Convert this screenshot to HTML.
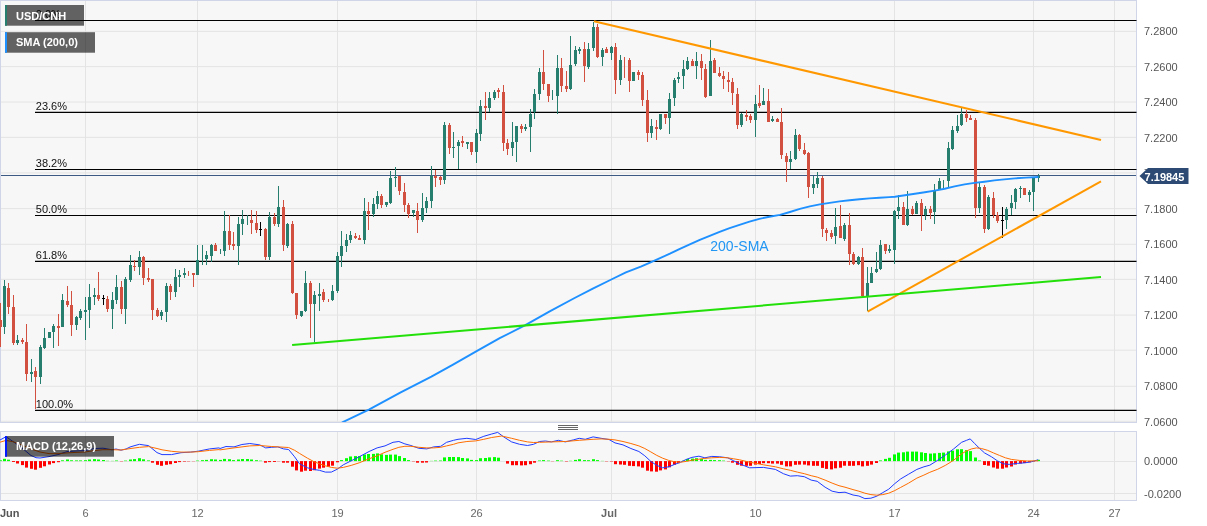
<!DOCTYPE html>
<html><head><meta charset="utf-8"><title>USD/CNH</title>
<style>html,body{margin:0;padding:0;background:#fff}body{width:1207px;height:526px;overflow:hidden;font-family:"Liberation Sans",sans-serif}</style></head>
<body>
<svg width="1207" height="526" viewBox="0 0 1207 526" style="display:block;will-change:transform;font-family:'Liberation Sans',sans-serif">
<rect width="1207" height="526" fill="#ffffff"/>
<rect x="0.5" y="0.5" width="1136" height="422" fill="#f7f7f7" stroke="#d0d5e8" stroke-width="1"/>
<rect x="0.5" y="431.5" width="1136" height="69" fill="#f7f7f7" stroke="#d0d5e8" stroke-width="1"/>
<path d="M85.5 1V422M85.5 432V500M197.5 1V422M197.5 432V500M337.5 1V422M337.5 432V500M476.5 1V422M476.5 432V500M611.5 1V422M611.5 432V500M755.5 1V422M755.5 432V500M894.5 1V422M894.5 432V500M1033.5 1V422M1033.5 432V500M1114.5 1V422M1114.5 432V500M1 31.4H1136M1 66.6H1136M1 102.0H1136M1 137.4H1136M1 172.9H1136M1 208.6H1136M1 244.3H1136M1 279.4H1136M1 315.1H1136M1 350.2H1136M1 386.3H1136M1 421.3H1136M1 461.5H1136M1 493.5H1136" stroke="#e4e4e4" stroke-width="1" fill="none"/>
<path d="M35 20.5H1136.5" stroke="#000" stroke-width="1.15"/>
<text x="35.8" y="18.1" font-size="11" fill="#111">0.0%</text>
<path d="M35 112.4H1136.5" stroke="#000" stroke-width="1.15"/>
<text x="35.8" y="110.0" font-size="11" fill="#111">23.6%</text>
<path d="M35 169.5H1136.5" stroke="#000" stroke-width="1.15"/>
<text x="35.8" y="167.1" font-size="11" fill="#111">38.2%</text>
<path d="M35 215.5H1136.5" stroke="#000" stroke-width="1.15"/>
<text x="35.8" y="213.1" font-size="11" fill="#111">50.0%</text>
<path d="M35 261.4H1136.5" stroke="#000" stroke-width="1.15"/>
<text x="35.8" y="259.0" font-size="11" fill="#111">61.8%</text>
<path d="M35 410.3H1136.5" stroke="#000" stroke-width="1.15"/>
<text x="35.8" y="407.9" font-size="11" fill="#111">100.0%</text>
<path d="M1 175.5H1136" stroke="#3d5a85" stroke-width="1.2"/>
<g shape-rendering="crispEdges"><rect x="0" y="303" width="1" height="44" fill="#d1503f"/><rect x="-1" y="320" width="3" height="7" fill="#d1503f"/><rect x="4" y="280" width="1" height="54" fill="#267f6e"/><rect x="3" y="286" width="3" height="41" fill="#267f6e"/><rect x="8" y="283" width="1" height="31" fill="#d1503f"/><rect x="7" y="288" width="3" height="19" fill="#d1503f"/><rect x="13" y="295" width="1" height="50" fill="#d1503f"/><rect x="12" y="307" width="3" height="36" fill="#d1503f"/><rect x="17" y="335" width="1" height="10" fill="#267f6e"/><rect x="16" y="340" width="3" height="3" fill="#267f6e"/><rect x="22" y="338" width="1" height="6" fill="#d1503f"/><rect x="21" y="340" width="3" height="2" fill="#d1503f"/><rect x="26" y="324" width="1" height="57" fill="#d1503f"/><rect x="25" y="342" width="3" height="32" fill="#d1503f"/><rect x="31" y="359" width="1" height="23" fill="#267f6e"/><rect x="30" y="372" width="3" height="2" fill="#267f6e"/><rect x="35" y="367" width="1" height="42" fill="#d1503f"/><rect x="34" y="371" width="3" height="6" fill="#d1503f"/><rect x="40" y="345" width="1" height="39" fill="#267f6e"/><rect x="39" y="347" width="3" height="30" fill="#267f6e"/><rect x="44" y="328" width="1" height="21" fill="#267f6e"/><rect x="43" y="338" width="3" height="10" fill="#267f6e"/><rect x="49" y="332" width="1" height="6" fill="#267f6e"/><rect x="48" y="332" width="3" height="6" fill="#267f6e"/><rect x="53" y="324" width="1" height="24" fill="#267f6e"/><rect x="52" y="326" width="3" height="6" fill="#267f6e"/><rect x="58" y="314" width="1" height="32" fill="#d1503f"/><rect x="57" y="326" width="3" height="2" fill="#d1503f"/><rect x="62" y="294" width="1" height="33" fill="#267f6e"/><rect x="61" y="300" width="3" height="27" fill="#267f6e"/><rect x="67" y="286" width="1" height="21" fill="#d1503f"/><rect x="66" y="301" width="3" height="4" fill="#d1503f"/><rect x="71" y="291" width="1" height="45" fill="#d1503f"/><rect x="70" y="305" width="3" height="20" fill="#d1503f"/><rect x="76" y="316" width="1" height="14" fill="#267f6e"/><rect x="75" y="317" width="3" height="8" fill="#267f6e"/><rect x="80" y="309" width="1" height="11" fill="#267f6e"/><rect x="79" y="311" width="3" height="7" fill="#267f6e"/><rect x="85" y="297" width="1" height="43" fill="#267f6e"/><rect x="84" y="310" width="3" height="2" fill="#267f6e"/><rect x="89" y="284" width="1" height="44" fill="#267f6e"/><rect x="88" y="297" width="3" height="13" fill="#267f6e"/><rect x="94" y="288" width="1" height="17" fill="#267f6e"/><rect x="93" y="295" width="3" height="2" fill="#267f6e"/><rect x="98" y="272" width="1" height="29" fill="#d1503f"/><rect x="97" y="295" width="3" height="4" fill="#d1503f"/><rect x="103" y="295" width="1" height="10" fill="#000000"/><rect x="102" y="298" width="3" height="1" fill="#000000"/><rect x="107" y="296" width="1" height="16" fill="#d1503f"/><rect x="106" y="299" width="3" height="10" fill="#d1503f"/><rect x="112" y="292" width="1" height="37" fill="#267f6e"/><rect x="111" y="300" width="3" height="9" fill="#267f6e"/><rect x="116" y="275" width="1" height="29" fill="#267f6e"/><rect x="115" y="287" width="3" height="13" fill="#267f6e"/><rect x="121" y="281" width="1" height="33" fill="#d1503f"/><rect x="120" y="287" width="3" height="22" fill="#d1503f"/><rect x="125" y="277" width="1" height="47" fill="#267f6e"/><rect x="124" y="279" width="3" height="30" fill="#267f6e"/><rect x="130" y="255" width="1" height="27" fill="#267f6e"/><rect x="129" y="265" width="3" height="15" fill="#267f6e"/><rect x="134" y="260" width="1" height="11" fill="#d1503f"/><rect x="133" y="266" width="3" height="1" fill="#d1503f"/><rect x="139" y="251" width="1" height="24" fill="#267f6e"/><rect x="138" y="257" width="3" height="10" fill="#267f6e"/><rect x="143" y="256" width="1" height="29" fill="#d1503f"/><rect x="142" y="257" width="3" height="21" fill="#d1503f"/><rect x="148" y="268" width="1" height="14" fill="#d1503f"/><rect x="147" y="278" width="3" height="2" fill="#d1503f"/><rect x="152" y="279" width="1" height="41" fill="#d1503f"/><rect x="151" y="279" width="3" height="31" fill="#d1503f"/><rect x="157" y="308" width="1" height="9" fill="#d1503f"/><rect x="156" y="310" width="3" height="6" fill="#d1503f"/><rect x="161" y="310" width="1" height="10" fill="#267f6e"/><rect x="160" y="312" width="3" height="4" fill="#267f6e"/><rect x="166" y="283" width="1" height="39" fill="#267f6e"/><rect x="165" y="286" width="3" height="26" fill="#267f6e"/><rect x="170" y="284" width="1" height="16" fill="#d1503f"/><rect x="169" y="286" width="3" height="6" fill="#d1503f"/><rect x="175" y="269" width="1" height="28" fill="#267f6e"/><rect x="174" y="277" width="3" height="15" fill="#267f6e"/><rect x="179" y="270" width="1" height="17" fill="#267f6e"/><rect x="178" y="275" width="3" height="2" fill="#267f6e"/><rect x="184" y="268" width="1" height="10" fill="#267f6e"/><rect x="183" y="273" width="3" height="2" fill="#267f6e"/><rect x="188" y="271" width="1" height="5" fill="#d1503f"/><rect x="193" y="273" width="1" height="14" fill="#d1503f"/><rect x="192" y="273" width="3" height="2" fill="#d1503f"/><rect x="197" y="245" width="1" height="30" fill="#267f6e"/><rect x="196" y="260" width="3" height="15" fill="#267f6e"/><rect x="202" y="245" width="1" height="20" fill="#267f6e"/><rect x="206" y="251" width="1" height="14" fill="#267f6e"/><rect x="205" y="255" width="3" height="4" fill="#267f6e"/><rect x="211" y="244" width="1" height="18" fill="#267f6e"/><rect x="210" y="245" width="3" height="11" fill="#267f6e"/><rect x="215" y="243" width="1" height="8" fill="#d1503f"/><rect x="214" y="245" width="3" height="6" fill="#d1503f"/><rect x="220" y="249" width="1" height="5" fill="#267f6e"/><rect x="224" y="211" width="1" height="45" fill="#267f6e"/><rect x="223" y="231" width="3" height="20" fill="#267f6e"/><rect x="229" y="215" width="1" height="35" fill="#d1503f"/><rect x="228" y="231" width="3" height="14" fill="#d1503f"/><rect x="233" y="232" width="1" height="18" fill="#d1503f"/><rect x="232" y="244" width="3" height="2" fill="#d1503f"/><rect x="238" y="217" width="1" height="48" fill="#267f6e"/><rect x="237" y="224" width="3" height="22" fill="#267f6e"/><rect x="242" y="210" width="1" height="25" fill="#267f6e"/><rect x="241" y="219" width="3" height="5" fill="#267f6e"/><rect x="247" y="215" width="1" height="10" fill="#267f6e"/><rect x="251" y="210" width="1" height="24" fill="#d1503f"/><rect x="250" y="220" width="3" height="3" fill="#d1503f"/><rect x="256" y="211" width="1" height="22" fill="#d1503f"/><rect x="255" y="223" width="3" height="7" fill="#d1503f"/><rect x="260" y="222" width="1" height="14" fill="#000000"/><rect x="259" y="229" width="3" height="1" fill="#000000"/><rect x="265" y="228" width="1" height="32" fill="#d1503f"/><rect x="264" y="229" width="3" height="28" fill="#d1503f"/><rect x="269" y="212" width="1" height="48" fill="#267f6e"/><rect x="268" y="217" width="3" height="40" fill="#267f6e"/><rect x="274" y="213" width="1" height="13" fill="#d1503f"/><rect x="273" y="217" width="3" height="7" fill="#d1503f"/><rect x="278" y="186" width="1" height="41" fill="#267f6e"/><rect x="277" y="207" width="3" height="17" fill="#267f6e"/><rect x="283" y="200" width="1" height="51" fill="#d1503f"/><rect x="282" y="207" width="3" height="38" fill="#d1503f"/><rect x="287" y="223" width="1" height="25" fill="#267f6e"/><rect x="286" y="224" width="3" height="22" fill="#267f6e"/><rect x="292" y="221" width="1" height="73" fill="#d1503f"/><rect x="291" y="224" width="3" height="69" fill="#d1503f"/><rect x="296" y="293" width="1" height="26" fill="#d1503f"/><rect x="295" y="293" width="3" height="22" fill="#d1503f"/><rect x="301" y="311" width="1" height="6" fill="#267f6e"/><rect x="300" y="311" width="3" height="5" fill="#267f6e"/><rect x="305" y="271" width="1" height="41" fill="#267f6e"/><rect x="304" y="283" width="3" height="28" fill="#267f6e"/><rect x="310" y="281" width="1" height="57" fill="#d1503f"/><rect x="309" y="283" width="3" height="21" fill="#d1503f"/><rect x="314" y="291" width="1" height="51" fill="#267f6e"/><rect x="313" y="295" width="3" height="9" fill="#267f6e"/><rect x="319" y="283" width="1" height="28" fill="#267f6e"/><rect x="318" y="294" width="3" height="2" fill="#267f6e"/><rect x="323" y="289" width="1" height="13" fill="#d1503f"/><rect x="322" y="292" width="3" height="8" fill="#d1503f"/><rect x="328" y="299" width="1" height="3" fill="#d1503f"/><rect x="332" y="285" width="1" height="16" fill="#267f6e"/><rect x="331" y="291" width="3" height="9" fill="#267f6e"/><rect x="337" y="252" width="1" height="41" fill="#267f6e"/><rect x="336" y="256" width="3" height="35" fill="#267f6e"/><rect x="341" y="231" width="1" height="36" fill="#267f6e"/><rect x="340" y="246" width="3" height="10" fill="#267f6e"/><rect x="346" y="234" width="1" height="18" fill="#267f6e"/><rect x="345" y="240" width="3" height="6" fill="#267f6e"/><rect x="350" y="231" width="1" height="12" fill="#267f6e"/><rect x="349" y="235" width="3" height="5" fill="#267f6e"/><rect x="355" y="233" width="1" height="6" fill="#d1503f"/><rect x="354" y="236" width="3" height="2" fill="#d1503f"/><rect x="359" y="235" width="1" height="5" fill="#d1503f"/><rect x="358" y="238" width="3" height="2" fill="#d1503f"/><rect x="364" y="198" width="1" height="46" fill="#267f6e"/><rect x="363" y="211" width="3" height="29" fill="#267f6e"/><rect x="368" y="202" width="1" height="28" fill="#d1503f"/><rect x="367" y="211" width="3" height="3" fill="#d1503f"/><rect x="373" y="198" width="1" height="19" fill="#267f6e"/><rect x="372" y="204" width="3" height="10" fill="#267f6e"/><rect x="377" y="191" width="1" height="18" fill="#267f6e"/><rect x="376" y="196" width="3" height="8" fill="#267f6e"/><rect x="381" y="194" width="1" height="14" fill="#d1503f"/><rect x="380" y="196" width="3" height="9" fill="#d1503f"/><rect x="386" y="202" width="1" height="5" fill="#267f6e"/><rect x="385" y="202" width="3" height="3" fill="#267f6e"/><rect x="390" y="171" width="1" height="33" fill="#267f6e"/><rect x="389" y="178" width="3" height="25" fill="#267f6e"/><rect x="395" y="167" width="1" height="20" fill="#267f6e"/><rect x="394" y="177" width="3" height="1" fill="#267f6e"/><rect x="399" y="176" width="1" height="19" fill="#d1503f"/><rect x="398" y="176" width="3" height="15" fill="#d1503f"/><rect x="404" y="183" width="1" height="29" fill="#d1503f"/><rect x="403" y="192" width="3" height="13" fill="#d1503f"/><rect x="408" y="203" width="1" height="15" fill="#d1503f"/><rect x="407" y="205" width="3" height="9" fill="#d1503f"/><rect x="413" y="210" width="1" height="7" fill="#267f6e"/><rect x="412" y="210" width="3" height="3" fill="#267f6e"/><rect x="417" y="203" width="1" height="30" fill="#d1503f"/><rect x="416" y="211" width="3" height="9" fill="#d1503f"/><rect x="422" y="193" width="1" height="29" fill="#267f6e"/><rect x="421" y="208" width="3" height="12" fill="#267f6e"/><rect x="426" y="197" width="1" height="16" fill="#267f6e"/><rect x="425" y="201" width="3" height="7" fill="#267f6e"/><rect x="431" y="166" width="1" height="42" fill="#267f6e"/><rect x="430" y="176" width="3" height="25" fill="#267f6e"/><rect x="435" y="170" width="1" height="17" fill="#d1503f"/><rect x="434" y="176" width="3" height="2" fill="#d1503f"/><rect x="440" y="176" width="1" height="9" fill="#d1503f"/><rect x="439" y="177" width="3" height="3" fill="#d1503f"/><rect x="444" y="122" width="1" height="62" fill="#267f6e"/><rect x="443" y="125" width="3" height="55" fill="#267f6e"/><rect x="449" y="123" width="1" height="31" fill="#d1503f"/><rect x="448" y="125" width="3" height="23" fill="#d1503f"/><rect x="453" y="132" width="1" height="26" fill="#267f6e"/><rect x="452" y="147" width="3" height="1" fill="#267f6e"/><rect x="458" y="140" width="1" height="29" fill="#267f6e"/><rect x="457" y="142" width="3" height="4" fill="#267f6e"/><rect x="462" y="136" width="1" height="11" fill="#d1503f"/><rect x="461" y="141" width="3" height="2" fill="#d1503f"/><rect x="467" y="142" width="1" height="7" fill="#267f6e"/><rect x="466" y="142" width="3" height="2" fill="#267f6e"/><rect x="471" y="142" width="1" height="13" fill="#d1503f"/><rect x="470" y="142" width="3" height="10" fill="#d1503f"/><rect x="476" y="129" width="1" height="34" fill="#267f6e"/><rect x="475" y="133" width="3" height="19" fill="#267f6e"/><rect x="480" y="100" width="1" height="41" fill="#267f6e"/><rect x="479" y="106" width="3" height="28" fill="#267f6e"/><rect x="485" y="92" width="1" height="28" fill="#d1503f"/><rect x="484" y="106" width="3" height="2" fill="#d1503f"/><rect x="489" y="92" width="1" height="20" fill="#267f6e"/><rect x="488" y="98" width="3" height="10" fill="#267f6e"/><rect x="494" y="90" width="1" height="10" fill="#267f6e"/><rect x="493" y="92" width="3" height="6" fill="#267f6e"/><rect x="498" y="88" width="1" height="10" fill="#d1503f"/><rect x="497" y="90" width="3" height="2" fill="#d1503f"/><rect x="503" y="85" width="1" height="66" fill="#d1503f"/><rect x="502" y="92" width="3" height="51" fill="#d1503f"/><rect x="507" y="139" width="1" height="16" fill="#d1503f"/><rect x="506" y="143" width="3" height="6" fill="#d1503f"/><rect x="512" y="122" width="1" height="34" fill="#267f6e"/><rect x="511" y="142" width="3" height="6" fill="#267f6e"/><rect x="516" y="126" width="1" height="36" fill="#267f6e"/><rect x="515" y="126" width="3" height="16" fill="#267f6e"/><rect x="521" y="124" width="1" height="9" fill="#d1503f"/><rect x="520" y="126" width="3" height="3" fill="#d1503f"/><rect x="525" y="124" width="1" height="7" fill="#267f6e"/><rect x="524" y="127" width="3" height="2" fill="#267f6e"/><rect x="530" y="109" width="1" height="43" fill="#267f6e"/><rect x="529" y="114" width="3" height="13" fill="#267f6e"/><rect x="534" y="89" width="1" height="30" fill="#267f6e"/><rect x="533" y="94" width="3" height="18" fill="#267f6e"/><rect x="539" y="68" width="1" height="32" fill="#267f6e"/><rect x="538" y="72" width="3" height="22" fill="#267f6e"/><rect x="543" y="50" width="1" height="40" fill="#d1503f"/><rect x="542" y="72" width="3" height="12" fill="#d1503f"/><rect x="548" y="84" width="1" height="18" fill="#d1503f"/><rect x="547" y="84" width="3" height="12" fill="#d1503f"/><rect x="552" y="90" width="1" height="10" fill="#267f6e"/><rect x="557" y="55" width="1" height="59" fill="#267f6e"/><rect x="556" y="68" width="3" height="28" fill="#267f6e"/><rect x="561" y="58" width="1" height="34" fill="#d1503f"/><rect x="560" y="68" width="3" height="18" fill="#d1503f"/><rect x="566" y="71" width="1" height="21" fill="#d1503f"/><rect x="565" y="86" width="3" height="3" fill="#d1503f"/><rect x="570" y="36" width="1" height="54" fill="#267f6e"/><rect x="569" y="65" width="3" height="24" fill="#267f6e"/><rect x="575" y="46" width="1" height="20" fill="#267f6e"/><rect x="574" y="50" width="3" height="14" fill="#267f6e"/><rect x="579" y="47" width="1" height="7" fill="#267f6e"/><rect x="578" y="49" width="3" height="2" fill="#267f6e"/><rect x="584" y="42" width="1" height="40" fill="#d1503f"/><rect x="583" y="49" width="3" height="17" fill="#d1503f"/><rect x="588" y="43" width="1" height="26" fill="#267f6e"/><rect x="587" y="49" width="3" height="18" fill="#267f6e"/><rect x="593" y="22" width="1" height="29" fill="#267f6e"/><rect x="592" y="27" width="3" height="21" fill="#267f6e"/><rect x="597" y="24" width="1" height="34" fill="#d1503f"/><rect x="596" y="27" width="3" height="30" fill="#d1503f"/><rect x="602" y="48" width="1" height="18" fill="#267f6e"/><rect x="601" y="50" width="3" height="7" fill="#267f6e"/><rect x="606" y="47" width="1" height="6" fill="#d1503f"/><rect x="605" y="49" width="3" height="4" fill="#d1503f"/><rect x="611" y="46" width="1" height="14" fill="#267f6e"/><rect x="610" y="47" width="3" height="6" fill="#267f6e"/><rect x="615" y="43" width="1" height="51" fill="#d1503f"/><rect x="614" y="47" width="3" height="33" fill="#d1503f"/><rect x="620" y="55" width="1" height="30" fill="#267f6e"/><rect x="619" y="60" width="3" height="20" fill="#267f6e"/><rect x="624" y="57" width="1" height="21" fill="#d1503f"/><rect x="629" y="58" width="1" height="34" fill="#d1503f"/><rect x="628" y="60" width="3" height="21" fill="#d1503f"/><rect x="633" y="72" width="1" height="9" fill="#267f6e"/><rect x="632" y="72" width="3" height="9" fill="#267f6e"/><rect x="638" y="70" width="1" height="10" fill="#d1503f"/><rect x="637" y="72" width="3" height="3" fill="#d1503f"/><rect x="642" y="72" width="1" height="34" fill="#d1503f"/><rect x="641" y="75" width="3" height="25" fill="#d1503f"/><rect x="647" y="90" width="1" height="52" fill="#d1503f"/><rect x="646" y="100" width="3" height="33" fill="#d1503f"/><rect x="651" y="119" width="1" height="19" fill="#267f6e"/><rect x="650" y="126" width="3" height="7" fill="#267f6e"/><rect x="656" y="120" width="1" height="20" fill="#d1503f"/><rect x="655" y="127" width="3" height="2" fill="#d1503f"/><rect x="660" y="114" width="1" height="16" fill="#267f6e"/><rect x="659" y="114" width="3" height="15" fill="#267f6e"/><rect x="665" y="114" width="1" height="10" fill="#d1503f"/><rect x="664" y="114" width="3" height="4" fill="#d1503f"/><rect x="669" y="93" width="1" height="41" fill="#267f6e"/><rect x="668" y="99" width="3" height="19" fill="#267f6e"/><rect x="674" y="78" width="1" height="28" fill="#267f6e"/><rect x="673" y="80" width="3" height="18" fill="#267f6e"/><rect x="678" y="72" width="1" height="11" fill="#267f6e"/><rect x="677" y="77" width="3" height="2" fill="#267f6e"/><rect x="683" y="60" width="1" height="29" fill="#267f6e"/><rect x="682" y="69" width="3" height="7" fill="#267f6e"/><rect x="687" y="57" width="1" height="13" fill="#267f6e"/><rect x="686" y="61" width="3" height="8" fill="#267f6e"/><rect x="692" y="59" width="1" height="7" fill="#d1503f"/><rect x="691" y="61" width="3" height="5" fill="#d1503f"/><rect x="696" y="52" width="1" height="27" fill="#267f6e"/><rect x="695" y="61" width="3" height="5" fill="#267f6e"/><rect x="701" y="54" width="1" height="26" fill="#d1503f"/><rect x="700" y="61" width="3" height="7" fill="#d1503f"/><rect x="705" y="64" width="1" height="34" fill="#d1503f"/><rect x="704" y="69" width="3" height="28" fill="#d1503f"/><rect x="710" y="40" width="1" height="56" fill="#267f6e"/><rect x="709" y="61" width="3" height="35" fill="#267f6e"/><rect x="714" y="58" width="1" height="15" fill="#d1503f"/><rect x="713" y="60" width="3" height="13" fill="#d1503f"/><rect x="719" y="67" width="1" height="10" fill="#d1503f"/><rect x="718" y="73" width="3" height="3" fill="#d1503f"/><rect x="723" y="71" width="1" height="18" fill="#d1503f"/><rect x="722" y="76" width="3" height="3" fill="#d1503f"/><rect x="728" y="72" width="1" height="20" fill="#d1503f"/><rect x="727" y="80" width="3" height="2" fill="#d1503f"/><rect x="732" y="78" width="1" height="27" fill="#d1503f"/><rect x="731" y="82" width="3" height="11" fill="#d1503f"/><rect x="737" y="88" width="1" height="41" fill="#d1503f"/><rect x="736" y="94" width="3" height="31" fill="#d1503f"/><rect x="741" y="113" width="1" height="14" fill="#267f6e"/><rect x="740" y="114" width="3" height="11" fill="#267f6e"/><rect x="746" y="110" width="1" height="11" fill="#d1503f"/><rect x="745" y="115" width="3" height="2" fill="#d1503f"/><rect x="750" y="114" width="1" height="9" fill="#d1503f"/><rect x="749" y="116" width="3" height="4" fill="#d1503f"/><rect x="755" y="95" width="1" height="42" fill="#267f6e"/><rect x="754" y="104" width="3" height="16" fill="#267f6e"/><rect x="759" y="85" width="1" height="23" fill="#d1503f"/><rect x="758" y="103" width="3" height="3" fill="#d1503f"/><rect x="763" y="88" width="1" height="17" fill="#267f6e"/><rect x="762" y="101" width="3" height="4" fill="#267f6e"/><rect x="768" y="89" width="1" height="33" fill="#d1503f"/><rect x="767" y="101" width="3" height="21" fill="#d1503f"/><rect x="772" y="116" width="1" height="6" fill="#267f6e"/><rect x="771" y="119" width="3" height="2" fill="#267f6e"/><rect x="777" y="118" width="1" height="4" fill="#d1503f"/><rect x="776" y="119" width="3" height="3" fill="#d1503f"/><rect x="781" y="108" width="1" height="51" fill="#d1503f"/><rect x="780" y="122" width="3" height="33" fill="#d1503f"/><rect x="786" y="153" width="1" height="29" fill="#d1503f"/><rect x="785" y="156" width="3" height="6" fill="#d1503f"/><rect x="790" y="151" width="1" height="18" fill="#267f6e"/><rect x="789" y="159" width="3" height="3" fill="#267f6e"/><rect x="795" y="129" width="1" height="31" fill="#267f6e"/><rect x="794" y="135" width="3" height="24" fill="#267f6e"/><rect x="799" y="134" width="1" height="17" fill="#d1503f"/><rect x="798" y="135" width="3" height="14" fill="#d1503f"/><rect x="804" y="143" width="1" height="12" fill="#d1503f"/><rect x="803" y="150" width="3" height="4" fill="#d1503f"/><rect x="808" y="152" width="1" height="46" fill="#d1503f"/><rect x="807" y="153" width="3" height="34" fill="#d1503f"/><rect x="813" y="176" width="1" height="18" fill="#267f6e"/><rect x="812" y="184" width="3" height="4" fill="#267f6e"/><rect x="817" y="172" width="1" height="16" fill="#267f6e"/><rect x="816" y="178" width="3" height="6" fill="#267f6e"/><rect x="822" y="176" width="1" height="61" fill="#d1503f"/><rect x="821" y="178" width="3" height="51" fill="#d1503f"/><rect x="826" y="228" width="1" height="13" fill="#d1503f"/><rect x="825" y="230" width="3" height="3" fill="#d1503f"/><rect x="831" y="230" width="1" height="9" fill="#d1503f"/><rect x="830" y="233" width="3" height="4" fill="#d1503f"/><rect x="835" y="208" width="1" height="36" fill="#267f6e"/><rect x="834" y="227" width="3" height="9" fill="#267f6e"/><rect x="840" y="205" width="1" height="33" fill="#d1503f"/><rect x="839" y="226" width="3" height="12" fill="#d1503f"/><rect x="844" y="223" width="1" height="18" fill="#267f6e"/><rect x="843" y="225" width="3" height="14" fill="#267f6e"/><rect x="849" y="213" width="1" height="52" fill="#d1503f"/><rect x="848" y="225" width="3" height="29" fill="#d1503f"/><rect x="853" y="252" width="1" height="13" fill="#d1503f"/><rect x="852" y="254" width="3" height="10" fill="#d1503f"/><rect x="858" y="256" width="1" height="9" fill="#267f6e"/><rect x="857" y="257" width="3" height="7" fill="#267f6e"/><rect x="862" y="248" width="1" height="50" fill="#d1503f"/><rect x="861" y="257" width="3" height="39" fill="#d1503f"/><rect x="867" y="267" width="1" height="44" fill="#267f6e"/><rect x="866" y="283" width="3" height="13" fill="#267f6e"/><rect x="871" y="267" width="1" height="16" fill="#267f6e"/><rect x="870" y="273" width="3" height="10" fill="#267f6e"/><rect x="876" y="252" width="1" height="21" fill="#267f6e"/><rect x="875" y="269" width="3" height="3" fill="#267f6e"/><rect x="880" y="240" width="1" height="30" fill="#267f6e"/><rect x="879" y="245" width="3" height="24" fill="#267f6e"/><rect x="885" y="244" width="1" height="10" fill="#d1503f"/><rect x="884" y="244" width="3" height="7" fill="#d1503f"/><rect x="889" y="245" width="1" height="8" fill="#267f6e"/><rect x="888" y="249" width="3" height="2" fill="#267f6e"/><rect x="894" y="210" width="1" height="54" fill="#267f6e"/><rect x="893" y="211" width="3" height="39" fill="#267f6e"/><rect x="898" y="195" width="1" height="24" fill="#267f6e"/><rect x="897" y="207" width="3" height="4" fill="#267f6e"/><rect x="903" y="202" width="1" height="23" fill="#d1503f"/><rect x="902" y="207" width="3" height="18" fill="#d1503f"/><rect x="907" y="191" width="1" height="35" fill="#267f6e"/><rect x="906" y="209" width="3" height="16" fill="#267f6e"/><rect x="912" y="206" width="1" height="9" fill="#d1503f"/><rect x="911" y="209" width="3" height="5" fill="#d1503f"/><rect x="916" y="201" width="1" height="13" fill="#267f6e"/><rect x="915" y="203" width="3" height="11" fill="#267f6e"/><rect x="921" y="199" width="1" height="32" fill="#d1503f"/><rect x="920" y="203" width="3" height="12" fill="#d1503f"/><rect x="925" y="206" width="1" height="14" fill="#267f6e"/><rect x="924" y="209" width="3" height="6" fill="#267f6e"/><rect x="930" y="206" width="1" height="13" fill="#d1503f"/><rect x="929" y="209" width="3" height="4" fill="#d1503f"/><rect x="934" y="184" width="1" height="40" fill="#267f6e"/><rect x="933" y="190" width="3" height="22" fill="#267f6e"/><rect x="939" y="178" width="1" height="12" fill="#267f6e"/><rect x="938" y="181" width="3" height="8" fill="#267f6e"/><rect x="943" y="180" width="1" height="9" fill="#267f6e"/><rect x="948" y="142" width="1" height="45" fill="#267f6e"/><rect x="947" y="148" width="3" height="33" fill="#267f6e"/><rect x="952" y="126" width="1" height="24" fill="#267f6e"/><rect x="951" y="130" width="3" height="19" fill="#267f6e"/><rect x="957" y="115" width="1" height="18" fill="#267f6e"/><rect x="956" y="126" width="3" height="5" fill="#267f6e"/><rect x="961" y="108" width="1" height="18" fill="#267f6e"/><rect x="960" y="114" width="3" height="11" fill="#267f6e"/><rect x="966" y="110" width="1" height="12" fill="#d1503f"/><rect x="965" y="114" width="3" height="4" fill="#d1503f"/><rect x="970" y="115" width="1" height="5" fill="#d1503f"/><rect x="969" y="118" width="3" height="2" fill="#d1503f"/><rect x="975" y="118" width="1" height="100" fill="#d1503f"/><rect x="974" y="120" width="3" height="88" fill="#d1503f"/><rect x="979" y="182" width="1" height="31" fill="#267f6e"/><rect x="978" y="187" width="3" height="21" fill="#267f6e"/><rect x="984" y="185" width="1" height="48" fill="#d1503f"/><rect x="983" y="187" width="3" height="42" fill="#d1503f"/><rect x="988" y="195" width="1" height="35" fill="#267f6e"/><rect x="987" y="197" width="3" height="32" fill="#267f6e"/><rect x="993" y="192" width="1" height="26" fill="#d1503f"/><rect x="992" y="198" width="3" height="17" fill="#d1503f"/><rect x="997" y="212" width="1" height="11" fill="#d1503f"/><rect x="996" y="215" width="3" height="6" fill="#d1503f"/><rect x="1002" y="207" width="1" height="31" fill="#000000"/><rect x="1001" y="220" width="3" height="1" fill="#000000"/><rect x="1006" y="207" width="1" height="22" fill="#267f6e"/><rect x="1005" y="209" width="3" height="11" fill="#267f6e"/><rect x="1011" y="195" width="1" height="20" fill="#267f6e"/><rect x="1010" y="203" width="3" height="5" fill="#267f6e"/><rect x="1015" y="188" width="1" height="21" fill="#267f6e"/><rect x="1014" y="189" width="3" height="13" fill="#267f6e"/><rect x="1020" y="186" width="1" height="12" fill="#267f6e"/><rect x="1019" y="188" width="3" height="1" fill="#267f6e"/><rect x="1024" y="188" width="1" height="7" fill="#d1503f"/><rect x="1023" y="188" width="3" height="7" fill="#d1503f"/><rect x="1029" y="190" width="1" height="12" fill="#267f6e"/><rect x="1028" y="192" width="3" height="3" fill="#267f6e"/><rect x="1033" y="177" width="1" height="34" fill="#267f6e"/><rect x="1032" y="178" width="3" height="14" fill="#267f6e"/><rect x="1038" y="174" width="1" height="8" fill="#267f6e"/><rect x="1037" y="176" width="3" height="2" fill="#267f6e"/></g>
<clipPath id="mp"><rect x="1" y="1" width="1135" height="421"/></clipPath>
<g clip-path="url(#mp)"><path d="M341.8 422.6 L368.9 409.6 L400.7 392.4 L431.4 376.6 L452.6 364.8 L476.2 351.4 L499.7 338.2 L524.9 325.4 L549.7 311.3 L574.6 298.0 L592.8 288.6 L611.3 279.5 L625.9 272.4 L640.8 266.6 L650.0 262.6 L660.0 258.2 L669.9 253.7 L679.9 248.8 L689.8 244.3 L699.8 239.8 L709.7 235.8 L719.6 231.9 L729.6 228.2 L739.5 224.9 L749.5 221.7 L759.4 218.9 L769.3 216.7 L780.0 214.9 L789.9 212.0 L799.9 208.9 L809.8 206.4 L819.8 204.4 L829.7 202.9 L839.6 201.4 L849.6 200.2 L859.5 199.2 L869.5 198.4 L879.4 197.7 L889.3 197.1 L895.0 196.8 L904.9 195.3 L914.9 193.8 L924.8 192.3 L934.8 190.6 L944.7 188.7 L954.6 186.4 L964.6 184.4 L974.5 182.9 L984.5 181.7 L994.4 180.4 L1004.3 179.4 L1015.0 178.4 L1026.0 177.6 L1038.5 177.0" stroke="#1e90ff" stroke-width="1.9" fill="none" stroke-linejoin="round"/></g>
<path d="M593.9 21.3L1101 140" stroke="#ff9800" stroke-width="2" fill="none"/>
<path d="M867.6 311.6L1101 181.3" stroke="#ff9800" stroke-width="2" fill="none"/>
<path d="M292.1 345L1101 277.1" stroke="#24e00a" stroke-width="2" fill="none"/>
<text x="710.3" y="251" font-size="14" fill="#2196f3">200-SMA</text>
<rect x="5" y="5" width="79" height="20.7" fill="#000000" fill-opacity="0.605"/>
<rect x="5" y="5" width="2" height="20.7" fill="#267f6e"/>
<text x="16" y="19.9" font-size="11" font-weight="bold" fill="#ffffff">USD/CNH</text>
<rect x="5" y="32.2" width="90" height="20.5" fill="#000000" fill-opacity="0.605"/>
<rect x="5" y="32.2" width="2" height="20.5" fill="#1e90ff"/>
<text x="16" y="46" font-size="11" font-weight="bold" fill="#ffffff">SMA (200,0)</text>
<text x="1144" y="35.3" font-size="11" fill="#555555">7.2800</text>
<text x="1144" y="70.8" font-size="11" fill="#555555">7.2600</text>
<text x="1144" y="106.3" font-size="11" fill="#555555">7.2400</text>
<text x="1144" y="141.8" font-size="11" fill="#555555">7.2200</text>
<text x="1144" y="177.3" font-size="11" fill="#555555">7.2000</text>
<text x="1144" y="212.8" font-size="11" fill="#555555">7.1800</text>
<text x="1144" y="248.3" font-size="11" fill="#555555">7.1600</text>
<text x="1144" y="283.8" font-size="11" fill="#555555">7.1400</text>
<text x="1144" y="319.3" font-size="11" fill="#555555">7.1200</text>
<text x="1144" y="354.8" font-size="11" fill="#555555">7.1000</text>
<text x="1144" y="390.3" font-size="11" fill="#555555">7.0800</text>
<text x="1144" y="425.8" font-size="11" fill="#555555">7.0600</text>
<text x="1144" y="465" font-size="11" fill="#555555">0.0000</text>
<text x="1144" y="498.3" font-size="11" fill="#555555">-0.0200</text>
<path d="M1139.5 176L1148 168H1188.5V184H1148Z" fill="#2d4a74"/>
<text x="1144.6" y="181" font-size="11" font-weight="bold" fill="#ffffff">7.19845</text>
<path d="M558 425.5H578M558 427.5H578M558 429.5H578" stroke="#666" stroke-width="1" shape-rendering="crispEdges"/>
<g><rect x="-1" y="460.3" width="3" height="0.8" fill="#00ff00"/><rect x="3" y="458.8" width="3" height="2.3" fill="#00ff00"/><rect x="7" y="459.7" width="3" height="1.4" fill="#00ff00"/><rect x="12" y="461.1" width="3" height="0.9" fill="#ff0000"/><rect x="16" y="461.1" width="3" height="2.4" fill="#ff0000"/><rect x="21" y="461.1" width="3" height="4.0" fill="#ff0000"/><rect x="25" y="461.1" width="3" height="6.5" fill="#ff0000"/><rect x="30" y="461.1" width="3" height="7.7" fill="#ff0000"/><rect x="34" y="461.1" width="3" height="8.6" fill="#ff0000"/><rect x="39" y="461.1" width="3" height="6.7" fill="#ff0000"/><rect x="43" y="461.1" width="3" height="5.2" fill="#ff0000"/><rect x="48" y="461.1" width="3" height="3.4" fill="#ff0000"/><rect x="52" y="461.1" width="3" height="2.0" fill="#ff0000"/><rect x="57" y="461.1" width="3" height="1.1" fill="#ff0000"/><rect x="61" y="460.3" width="3" height="0.8" fill="#00ff00"/><rect x="66" y="459.5" width="3" height="1.6" fill="#00ff00"/><rect x="70" y="460.3" width="3" height="0.8" fill="#00ff00"/><rect x="75" y="460.4" width="3" height="0.7" fill="#00ff00"/><rect x="79" y="460.4" width="3" height="0.7" fill="#00ff00"/><rect x="84" y="460.2" width="3" height="0.9" fill="#00ff00"/><rect x="88" y="459.5" width="3" height="1.6" fill="#00ff00"/><rect x="93" y="459.1" width="3" height="2.0" fill="#00ff00"/><rect x="97" y="459.5" width="3" height="1.6" fill="#00ff00"/><rect x="102" y="460.0" width="3" height="1.1" fill="#00ff00"/><rect x="106" y="460.8" width="3" height="0.3" fill="#00ff00"/><rect x="111" y="460.9" width="3" height="0.2" fill="#00ff00"/><rect x="115" y="460.5" width="3" height="0.6" fill="#00ff00"/><rect x="120" y="461.1" width="3" height="0.3" fill="#ff0000"/><rect x="124" y="460.6" width="3" height="0.5" fill="#00ff00"/><rect x="129" y="459.5" width="3" height="1.6" fill="#00ff00"/><rect x="133" y="459.1" width="3" height="2.0" fill="#00ff00"/><rect x="138" y="458.2" width="3" height="2.9" fill="#00ff00"/><rect x="142" y="459.3" width="3" height="1.8" fill="#00ff00"/><rect x="147" y="460.4" width="3" height="0.7" fill="#00ff00"/><rect x="151" y="461.1" width="3" height="1.6" fill="#ff0000"/><rect x="156" y="461.1" width="3" height="3.7" fill="#ff0000"/><rect x="160" y="461.1" width="3" height="4.7" fill="#ff0000"/><rect x="165" y="461.1" width="3" height="3.7" fill="#ff0000"/><rect x="169" y="461.1" width="3" height="3.1" fill="#ff0000"/><rect x="174" y="461.1" width="3" height="1.9" fill="#ff0000"/><rect x="178" y="461.1" width="3" height="1.0" fill="#ff0000"/><rect x="183" y="461.1" width="3" height="0.5" fill="#ff0000"/><rect x="187" y="461.1" width="3" height="0.3" fill="#ff0000"/><rect x="192" y="461.1" width="3" height="0.2" fill="#ff0000"/><rect x="196" y="460.6" width="3" height="0.5" fill="#00ff00"/><rect x="201" y="460.2" width="3" height="0.9" fill="#00ff00"/><rect x="205" y="459.9" width="3" height="1.2" fill="#00ff00"/><rect x="210" y="459.2" width="3" height="1.9" fill="#00ff00"/><rect x="214" y="459.5" width="3" height="1.6" fill="#00ff00"/><rect x="219" y="459.9" width="3" height="1.2" fill="#00ff00"/><rect x="223" y="458.9" width="3" height="2.2" fill="#00ff00"/><rect x="228" y="459.2" width="3" height="1.9" fill="#00ff00"/><rect x="232" y="460.1" width="3" height="1.0" fill="#00ff00"/><rect x="237" y="459.5" width="3" height="1.6" fill="#00ff00"/><rect x="241" y="459.0" width="3" height="2.1" fill="#00ff00"/><rect x="246" y="459.0" width="3" height="2.1" fill="#00ff00"/><rect x="250" y="459.5" width="3" height="1.6" fill="#00ff00"/><rect x="255" y="460.2" width="3" height="0.9" fill="#00ff00"/><rect x="259" y="460.7" width="3" height="0.4" fill="#00ff00"/><rect x="264" y="461.1" width="3" height="1.6" fill="#ff0000"/><rect x="268" y="461.1" width="3" height="1.0" fill="#ff0000"/><rect x="273" y="461.1" width="3" height="0.9" fill="#ff0000"/><rect x="277" y="461.1" width="3" height="0.2" fill="#ff0000"/><rect x="282" y="461.1" width="3" height="1.6" fill="#ff0000"/><rect x="286" y="461.1" width="3" height="1.6" fill="#ff0000"/><rect x="291" y="461.1" width="3" height="5.6" fill="#ff0000"/><rect x="295" y="461.1" width="3" height="9.3" fill="#ff0000"/><rect x="300" y="461.1" width="3" height="10.6" fill="#ff0000"/><rect x="304" y="461.1" width="3" height="9.6" fill="#ff0000"/><rect x="309" y="461.1" width="3" height="9.9" fill="#ff0000"/><rect x="313" y="461.1" width="3" height="9.1" fill="#ff0000"/><rect x="318" y="461.1" width="3" height="7.5" fill="#ff0000"/><rect x="322" y="461.1" width="3" height="6.6" fill="#ff0000"/><rect x="327" y="461.1" width="3" height="5.6" fill="#ff0000"/><rect x="331" y="461.1" width="3" height="4.6" fill="#ff0000"/><rect x="336" y="461.1" width="3" height="1.2" fill="#ff0000"/><rect x="340" y="460.1" width="3" height="1.0" fill="#00ff00"/><rect x="345" y="458.2" width="3" height="2.9" fill="#00ff00"/><rect x="349" y="456.5" width="3" height="4.6" fill="#00ff00"/><rect x="354" y="456.1" width="3" height="5.0" fill="#00ff00"/><rect x="358" y="456.1" width="3" height="5.0" fill="#00ff00"/><rect x="363" y="454.5" width="3" height="6.6" fill="#00ff00"/><rect x="367" y="454.0" width="3" height="7.1" fill="#00ff00"/><rect x="372" y="453.9" width="3" height="7.2" fill="#00ff00"/><rect x="376" y="453.4" width="3" height="7.7" fill="#00ff00"/><rect x="380" y="454.3" width="3" height="6.8" fill="#00ff00"/><rect x="385" y="454.9" width="3" height="6.2" fill="#00ff00"/><rect x="389" y="454.6" width="3" height="6.5" fill="#00ff00"/><rect x="394" y="454.6" width="3" height="6.5" fill="#00ff00"/><rect x="398" y="456.1" width="3" height="5.0" fill="#00ff00"/><rect x="403" y="458.0" width="3" height="3.1" fill="#00ff00"/><rect x="407" y="460.1" width="3" height="1.0" fill="#00ff00"/><rect x="412" y="461.1" width="3" height="0.3" fill="#ff0000"/><rect x="416" y="461.1" width="3" height="1.6" fill="#ff0000"/><rect x="421" y="461.1" width="3" height="1.6" fill="#ff0000"/><rect x="425" y="461.1" width="3" height="1.4" fill="#ff0000"/><rect x="430" y="460.9" width="3" height="0.2" fill="#00ff00"/><rect x="434" y="460.6" width="3" height="0.5" fill="#00ff00"/><rect x="439" y="460.5" width="3" height="0.6" fill="#00ff00"/><rect x="443" y="457.4" width="3" height="3.7" fill="#00ff00"/><rect x="448" y="457.0" width="3" height="4.1" fill="#00ff00"/><rect x="452" y="457.0" width="3" height="4.1" fill="#00ff00"/><rect x="457" y="457.1" width="3" height="4.0" fill="#00ff00"/><rect x="461" y="458.0" width="3" height="3.1" fill="#00ff00"/><rect x="466" y="458.4" width="3" height="2.7" fill="#00ff00"/><rect x="470" y="459.9" width="3" height="1.2" fill="#00ff00"/><rect x="475" y="460.1" width="3" height="1.0" fill="#00ff00"/><rect x="479" y="458.2" width="3" height="2.9" fill="#00ff00"/><rect x="484" y="458.0" width="3" height="3.1" fill="#00ff00"/><rect x="488" y="457.4" width="3" height="3.7" fill="#00ff00"/><rect x="493" y="457.1" width="3" height="4.0" fill="#00ff00"/><rect x="497" y="457.7" width="3" height="3.4" fill="#00ff00"/><rect x="506" y="461.1" width="3" height="2.5" fill="#ff0000"/><rect x="511" y="461.1" width="3" height="4.1" fill="#ff0000"/><rect x="515" y="461.1" width="3" height="4.1" fill="#ff0000"/><rect x="520" y="461.1" width="3" height="4.3" fill="#ff0000"/><rect x="524" y="461.1" width="3" height="4.1" fill="#ff0000"/><rect x="529" y="461.1" width="3" height="3.1" fill="#ff0000"/><rect x="533" y="461.1" width="3" height="1.6" fill="#ff0000"/><rect x="538" y="460.5" width="3" height="0.6" fill="#00ff00"/><rect x="542" y="460.1" width="3" height="1.0" fill="#00ff00"/><rect x="547" y="460.6" width="3" height="0.5" fill="#00ff00"/><rect x="551" y="461.1" width="3" height="0.2" fill="#ff0000"/><rect x="556" y="460.2" width="3" height="0.9" fill="#00ff00"/><rect x="560" y="460.7" width="3" height="0.4" fill="#00ff00"/><rect x="565" y="461.1" width="3" height="0.4" fill="#ff0000"/><rect x="569" y="460.8" width="3" height="0.3" fill="#00ff00"/><rect x="574" y="459.9" width="3" height="1.2" fill="#00ff00"/><rect x="578" y="459.2" width="3" height="1.9" fill="#00ff00"/><rect x="583" y="460.1" width="3" height="1.0" fill="#00ff00"/><rect x="587" y="460.2" width="3" height="0.9" fill="#00ff00"/><rect x="592" y="459.2" width="3" height="1.9" fill="#00ff00"/><rect x="596" y="460.1" width="3" height="1.0" fill="#00ff00"/><rect x="601" y="460.9" width="3" height="0.2" fill="#00ff00"/><rect x="605" y="461.1" width="3" height="0.3" fill="#ff0000"/><rect x="610" y="461.1" width="3" height="0.4" fill="#ff0000"/><rect x="614" y="461.1" width="3" height="3.1" fill="#ff0000"/><rect x="619" y="461.1" width="3" height="3.4" fill="#ff0000"/><rect x="623" y="461.1" width="3" height="3.7" fill="#ff0000"/><rect x="628" y="461.1" width="3" height="4.7" fill="#ff0000"/><rect x="632" y="461.1" width="3" height="5.0" fill="#ff0000"/><rect x="637" y="461.1" width="3" height="5.3" fill="#ff0000"/><rect x="641" y="461.1" width="3" height="6.6" fill="#ff0000"/><rect x="646" y="461.1" width="3" height="9.6" fill="#ff0000"/><rect x="650" y="461.1" width="3" height="10.3" fill="#ff0000"/><rect x="655" y="461.1" width="3" height="10.6" fill="#ff0000"/><rect x="659" y="461.1" width="3" height="9.3" fill="#ff0000"/><rect x="664" y="461.1" width="3" height="8.3" fill="#ff0000"/><rect x="668" y="461.1" width="3" height="6.2" fill="#ff0000"/><rect x="673" y="461.1" width="3" height="3.7" fill="#ff0000"/><rect x="677" y="461.1" width="3" height="2.1" fill="#ff0000"/><rect x="682" y="460.7" width="3" height="0.4" fill="#00ff00"/><rect x="686" y="459.0" width="3" height="2.1" fill="#00ff00"/><rect x="691" y="458.6" width="3" height="2.5" fill="#00ff00"/><rect x="695" y="458.2" width="3" height="2.9" fill="#00ff00"/><rect x="700" y="458.9" width="3" height="2.2" fill="#00ff00"/><rect x="704" y="459.9" width="3" height="1.2" fill="#00ff00"/><rect x="709" y="459.9" width="3" height="1.2" fill="#00ff00"/><rect x="713" y="460.1" width="3" height="1.0" fill="#00ff00"/><rect x="718" y="460.2" width="3" height="0.9" fill="#00ff00"/><rect x="722" y="460.6" width="3" height="0.5" fill="#00ff00"/><rect x="727" y="461.1" width="3" height="0.3" fill="#ff0000"/><rect x="731" y="461.1" width="3" height="1.6" fill="#ff0000"/><rect x="736" y="461.1" width="3" height="3.7" fill="#ff0000"/><rect x="740" y="461.1" width="3" height="4.6" fill="#ff0000"/><rect x="745" y="461.1" width="3" height="4.7" fill="#ff0000"/><rect x="749" y="461.1" width="3" height="4.7" fill="#ff0000"/><rect x="754" y="461.1" width="3" height="3.5" fill="#ff0000"/><rect x="758" y="461.1" width="3" height="2.9" fill="#ff0000"/><rect x="762" y="461.1" width="3" height="2.1" fill="#ff0000"/><rect x="767" y="461.1" width="3" height="2.1" fill="#ff0000"/><rect x="771" y="461.1" width="3" height="2.5" fill="#ff0000"/><rect x="776" y="461.1" width="3" height="2.5" fill="#ff0000"/><rect x="780" y="461.1" width="3" height="3.7" fill="#ff0000"/><rect x="785" y="461.1" width="3" height="5.3" fill="#ff0000"/><rect x="789" y="461.1" width="3" height="5.3" fill="#ff0000"/><rect x="794" y="461.1" width="3" height="3.7" fill="#ff0000"/><rect x="798" y="461.1" width="3" height="3.5" fill="#ff0000"/><rect x="803" y="461.1" width="3" height="3.5" fill="#ff0000"/><rect x="807" y="461.1" width="3" height="4.3" fill="#ff0000"/><rect x="812" y="461.1" width="3" height="4.7" fill="#ff0000"/><rect x="816" y="461.1" width="3" height="4.7" fill="#ff0000"/><rect x="821" y="461.1" width="3" height="6.8" fill="#ff0000"/><rect x="825" y="461.1" width="3" height="7.8" fill="#ff0000"/><rect x="830" y="461.1" width="3" height="8.3" fill="#ff0000"/><rect x="834" y="461.1" width="3" height="7.2" fill="#ff0000"/><rect x="839" y="461.1" width="3" height="6.6" fill="#ff0000"/><rect x="843" y="461.1" width="3" height="4.6" fill="#ff0000"/><rect x="848" y="461.1" width="3" height="4.7" fill="#ff0000"/><rect x="852" y="461.1" width="3" height="4.7" fill="#ff0000"/><rect x="857" y="461.1" width="3" height="4.1" fill="#ff0000"/><rect x="861" y="461.1" width="3" height="5.3" fill="#ff0000"/><rect x="866" y="461.1" width="3" height="4.7" fill="#ff0000"/><rect x="870" y="461.1" width="3" height="3.5" fill="#ff0000"/><rect x="875" y="461.1" width="3" height="1.9" fill="#ff0000"/><rect x="879" y="460.4" width="3" height="0.7" fill="#00ff00"/><rect x="884" y="458.9" width="3" height="2.2" fill="#00ff00"/><rect x="888" y="457.8" width="3" height="3.3" fill="#00ff00"/><rect x="893" y="454.4" width="3" height="6.7" fill="#00ff00"/><rect x="897" y="452.6" width="3" height="8.5" fill="#00ff00"/><rect x="902" y="452.3" width="3" height="8.8" fill="#00ff00"/><rect x="906" y="451.6" width="3" height="9.5" fill="#00ff00"/><rect x="911" y="451.6" width="3" height="9.5" fill="#00ff00"/><rect x="915" y="451.6" width="3" height="9.5" fill="#00ff00"/><rect x="920" y="452.3" width="3" height="8.8" fill="#00ff00"/><rect x="924" y="453.0" width="3" height="8.1" fill="#00ff00"/><rect x="929" y="453.6" width="3" height="7.5" fill="#00ff00"/><rect x="933" y="453.3" width="3" height="7.8" fill="#00ff00"/><rect x="938" y="452.9" width="3" height="8.2" fill="#00ff00"/><rect x="942" y="452.6" width="3" height="8.5" fill="#00ff00"/><rect x="947" y="451.4" width="3" height="9.7" fill="#00ff00"/><rect x="951" y="450.7" width="3" height="10.4" fill="#00ff00"/><rect x="956" y="449.3" width="3" height="11.8" fill="#00ff00"/><rect x="960" y="449.2" width="3" height="11.9" fill="#00ff00"/><rect x="965" y="450.1" width="3" height="11.0" fill="#00ff00"/><rect x="969" y="451.1" width="3" height="10.0" fill="#00ff00"/><rect x="974" y="457.5" width="3" height="3.6" fill="#00ff00"/><rect x="978" y="460.5" width="3" height="0.6" fill="#00ff00"/><rect x="983" y="461.1" width="3" height="3.9" fill="#ff0000"/><rect x="987" y="461.1" width="3" height="4.6" fill="#ff0000"/><rect x="992" y="461.1" width="3" height="6.4" fill="#ff0000"/><rect x="996" y="461.1" width="3" height="7.6" fill="#ff0000"/><rect x="1001" y="461.1" width="3" height="7.6" fill="#ff0000"/><rect x="1005" y="461.1" width="3" height="6.4" fill="#ff0000"/><rect x="1010" y="461.1" width="3" height="5.4" fill="#ff0000"/><rect x="1014" y="461.1" width="3" height="3.4" fill="#ff0000"/><rect x="1019" y="461.1" width="3" height="2.4" fill="#ff0000"/><rect x="1023" y="461.1" width="3" height="1.9" fill="#ff0000"/><rect x="1028" y="461.1" width="3" height="1.2" fill="#ff0000"/><rect x="1032" y="461.1" width="3" height="0.4" fill="#ff0000"/><rect x="1037" y="459.8" width="3" height="1.3" fill="#00ff00"/></g>
<path d="M0.0 440.0 L6.0 436.7 L13.0 441.5 L22.0 448.0 L31.0 455.5 L36.0 457.7 L40.0 458.0 L49.0 456.6 L58.0 454.6 L67.0 451.6 L76.0 451.0 L85.0 450.6 L94.0 448.6 L103.0 448.2 L112.0 449.8 L116.0 449.0 L121.0 450.2 L126.0 449.0 L130.0 447.0 L135.0 445.5 L139.5 444.3 L144.0 445.0 L148.6 445.6 L153.0 449.3 L157.0 452.6 L162.0 454.6 L171.5 454.6 L181.0 452.7 L190.5 452.1 L198.2 451.2 L209.6 448.9 L219.0 447.9 L220.0 448.5 L226.0 446.5 L234.0 446.9 L241.9 444.5 L249.8 443.5 L259.8 444.9 L265.7 447.9 L271.7 447.3 L277.7 446.9 L283.6 448.9 L288.6 449.5 L294.6 456.8 L299.5 463.8 L307.5 467.8 L313.4 469.4 L319.4 470.3 L325.4 472.1 L331.3 472.1 L337.3 469.2 L343.3 464.8 L351.2 460.8 L359.2 456.8 L369.1 451.5 L377.1 447.9 L385.0 445.9 L393.0 442.3 L398.9 441.5 L404.9 443.9 L410.9 445.5 L418.8 448.3 L426.8 448.9 L433.7 446.9 L440.7 446.3 L446.6 442.3 L453.6 440.3 L458.0 439.3 L466.9 438.3 L475.8 439.5 L483.8 436.3 L491.7 434.0 L497.7 432.4 L503.7 436.9 L511.6 441.9 L519.6 444.3 L527.5 445.5 L533.5 444.3 L539.5 441.5 L545.4 441.0 L551.4 441.9 L558.3 440.3 L565.3 441.9 L573.3 439.9 L579.2 438.3 L585.2 439.3 L593.1 436.9 L601.1 438.3 L609.0 439.5 L615.0 442.9 L623.0 444.9 L630.9 448.5 L638.9 451.5 L644.8 455.8 L650.8 461.4 L656.8 465.4 L662.7 467.8 L668.7 466.8 L674.7 464.4 L680.6 462.2 L686.3 459.4 L691.9 457.4 L698.9 456.2 L704.9 457.8 L711.8 456.4 L719.8 456.8 L727.7 457.8 L733.7 460.8 L739.6 463.8 L749.6 467.8 L763.5 467.4 L775.4 469.4 L783.4 473.7 L790.3 476.1 L797.3 475.7 L804.3 476.7 L811.2 480.1 L817.2 481.3 L825.1 487.2 L832.1 491.2 L839.0 492.6 L845.0 492.2 L853.0 495.0 L858.9 496.0 L864.9 498.6 L870.9 498.2 L876.8 496.2 L882.8 492.6 L888.7 489.2 L894.7 483.7 L900.7 478.9 L908.3 474.4 L916.9 469.4 L923.9 466.8 L929.8 465.2 L937.8 460.2 L945.7 454.8 L953.7 448.9 L961.6 442.3 L966.6 440.3 L970.2 438.9 L974.6 443.5 L979.5 448.3 L984.5 452.9 L991.5 456.8 L997.4 460.8 L1003.4 463.8 L1009.3 464.4 L1017.3 463.4 L1025.2 462.8 L1031.2 461.8 L1038.2 459.8" stroke="#1f3cff" stroke-width="1" fill="none" stroke-linejoin="round"/>
<path d="M0.0 442.2 L6.0 440.4 L13.0 441.7 L22.0 445.0 L31.0 449.0 L40.0 452.0 L49.0 453.6 L58.0 453.7 L67.0 452.9 L76.0 452.4 L85.0 452.0 L94.0 450.6 L103.0 449.7 L112.0 449.7 L121.0 450.0 L130.0 448.6 L139.5 447.3 L148.6 446.6 L157.0 448.5 L162.0 449.8 L171.5 451.3 L181.0 452.1 L190.5 452.1 L198.2 451.7 L209.6 450.4 L219.0 449.6 L220.0 449.9 L234.0 447.9 L249.8 445.9 L259.8 445.5 L271.7 446.5 L288.6 447.5 L294.6 450.3 L299.5 453.4 L307.5 458.2 L313.4 461.4 L319.4 463.8 L325.4 465.8 L331.3 467.4 L337.3 468.2 L343.3 467.4 L351.2 465.4 L359.2 462.8 L369.1 458.8 L377.1 455.8 L385.0 452.3 L393.0 449.3 L398.9 447.3 L404.9 446.3 L410.9 446.3 L418.8 447.3 L426.8 447.9 L433.7 447.9 L440.7 447.3 L446.6 445.9 L453.6 444.3 L458.0 442.9 L466.9 441.5 L475.8 440.9 L483.8 439.3 L491.7 437.5 L501.7 436.0 L511.6 438.3 L519.6 440.3 L527.5 441.9 L533.5 442.5 L539.5 442.3 L551.4 441.9 L565.3 441.5 L579.2 440.3 L593.1 439.3 L601.1 438.9 L609.0 439.3 L615.0 439.9 L623.0 441.5 L630.9 443.5 L638.9 445.9 L644.8 448.5 L650.8 451.9 L656.8 455.4 L662.7 458.2 L668.7 460.4 L674.7 461.8 L680.6 462.2 L686.3 461.4 L691.9 460.2 L698.9 459.2 L704.9 458.4 L711.8 457.8 L719.8 457.4 L727.7 457.8 L733.7 458.8 L739.6 459.8 L749.6 462.2 L763.5 464.8 L775.4 466.8 L783.4 468.8 L790.3 470.3 L797.3 472.1 L804.3 473.7 L811.2 475.7 L817.2 477.1 L825.1 480.1 L832.1 483.1 L839.0 485.7 L845.0 487.2 L853.0 489.6 L858.9 491.2 L864.9 493.2 L870.9 494.6 L876.8 495.2 L882.8 494.6 L888.7 493.2 L894.7 490.6 L900.7 487.4 L908.3 483.3 L916.9 478.1 L923.9 475.1 L929.8 472.3 L937.8 469.2 L945.7 465.2 L953.7 460.2 L961.6 453.8 L966.6 450.9 L971.6 448.9 L976.5 447.9 L981.5 448.5 L987.5 450.3 L993.4 452.9 L999.4 455.4 L1005.4 457.8 L1011.3 459.4 L1019.3 460.4 L1027.2 461.0 L1038.2 460.8" stroke="#ff6d00" stroke-width="1" fill="none" stroke-linejoin="round"/>
<rect x="5" y="436" width="109" height="20.7" fill="#000000" fill-opacity="0.605"/>
<rect x="5" y="436" width="2" height="20.7" fill="#0019ff"/>
<text x="16" y="450" font-size="11" font-weight="bold" fill="#ffffff">MACD (12,26,9)</text>
<text x="0" y="517" font-size="11" font-weight="bold" fill="#555555">Jun</text>
<text x="85.5" y="517" font-size="11" text-anchor="middle" fill="#666666">6</text>
<text x="197.5" y="517" font-size="11" text-anchor="middle" fill="#666666">12</text>
<text x="337.5" y="517" font-size="11" text-anchor="middle" fill="#666666">19</text>
<text x="476.5" y="517" font-size="11" text-anchor="middle" fill="#666666">26</text>
<text x="609" y="517" font-size="11" text-anchor="middle" font-weight="bold" fill="#666666">Jul</text>
<text x="755.5" y="517" font-size="11" text-anchor="middle" fill="#666666">10</text>
<text x="894.5" y="517" font-size="11" text-anchor="middle" fill="#666666">17</text>
<text x="1033.5" y="517" font-size="11" text-anchor="middle" fill="#666666">24</text>
<text x="1114.5" y="517" font-size="11" text-anchor="middle" fill="#666666">27</text>
</svg>
</body></html>
